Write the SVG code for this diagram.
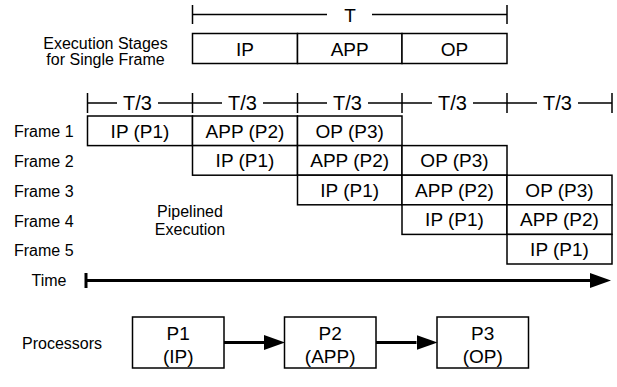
<svg xmlns="http://www.w3.org/2000/svg" width="617" height="387" viewBox="0 0 617 387">
<style>
.lbl{font-family:"Liberation Sans",Arial,Helvetica,sans-serif;font-size:16px;fill:#000}
.mid{text-anchor:middle}
.bt{font-family:"Liberation Sans",Arial,Helvetica,sans-serif;font-size:19px;fill:#000;text-anchor:middle}
.tl{font-family:"Liberation Sans",Arial,Helvetica,sans-serif;font-size:20px;fill:#000;text-anchor:middle}
.box{fill:#fff;stroke:#000;stroke-width:1.5}
.br{stroke:#000;stroke-width:1.5;fill:none}
.thick{stroke:#000;stroke-width:3;fill:none}
</style>
<defs>
<marker id="ah" markerUnits="userSpaceOnUse" viewBox="0 0 21 15" refX="0" refY="7.5" markerWidth="21" markerHeight="15" orient="auto">
<path d="M0,0 L21,7.5 L0,15 Z" fill="#000"/>
</marker>
</defs>
<rect width="617" height="387" fill="#fff"/>

<g id="single-frame">
  <path class="br" d="M192.5,5 V24 M507,5 V24 M192.5,14.5 H327 M372,14.5 H507"/>
  <text class="tl" x="350" y="21.5" style="font-size:19px">T</text>
  <text class="lbl mid" x="105.5" y="48.5">Execution Stages</text>
  <text class="lbl mid" x="105.5" y="64.5">for Single Frame</text>
  <rect class="box" x="192.5" y="33.5" width="105" height="30"/>
  <rect class="box" x="297.5" y="33.5" width="104.5" height="30"/>
  <rect class="box" x="402" y="33.5" width="105" height="30"/>
  <text class="bt" x="245" y="55.5">IP</text>
  <text class="bt" x="349.7" y="55.5">APP</text>
  <text class="bt" x="454.5" y="55.5">OP</text>
</g>

<g id="t3-scale">
  <path class="br" d="M87.5,93 V113 M192.5,93 V113 M297.5,93 V113 M402,93 V113 M507,93 V113 M612,93 V113"/>
  <path class="br" d="M87.5,103 H117 M158,103 H192.5 M192.5,103 H222 M263,103 H297.5 M297.5,103 H327 M368,103 H402 M402,103 H432 M473,103 H507 M507,103 H537 M578,103 H612"/>
  <text class="tl" x="137.5" y="110">T/3</text>
  <text class="tl" x="242.5" y="110">T/3</text>
  <text class="tl" x="347.5" y="110">T/3</text>
  <text class="tl" x="452.5" y="110">T/3</text>
  <text class="tl" x="557.5" y="110">T/3</text>
</g>

<g id="frame-labels">
  <text class="lbl" x="14" y="137">Frame 1</text>
  <text class="lbl" x="14" y="167">Frame 2</text>
  <text class="lbl" x="14" y="197">Frame 3</text>
  <text class="lbl" x="14" y="226.5">Frame 4</text>
  <text class="lbl" x="14" y="256">Frame 5</text>
  <text class="lbl mid" x="190" y="217">Pipelined</text>
  <text class="lbl mid" x="190" y="235">Execution</text>
  <text class="lbl" x="31.5" y="286">Time</text>
</g>

<g id="frame1">
  <rect class="box" x="87.5" y="116" width="105" height="29.6"/>
  <rect class="box" x="192.5" y="116" width="105" height="29.6"/>
  <rect class="box" x="297.5" y="116" width="104.5" height="29.6"/>
  <text class="bt" x="140" y="137.5">IP (P1)</text>
  <text class="bt" x="245" y="137.5">APP (P2)</text>
  <text class="bt" x="349.7" y="137.5">OP (P3)</text>
</g>
<g id="frame2">
  <rect class="box" x="192.5" y="145.6" width="105" height="29.6"/>
  <rect class="box" x="297.5" y="145.6" width="104.5" height="29.6"/>
  <rect class="box" x="402" y="145.6" width="105" height="29.6"/>
  <text class="bt" x="245" y="167">IP (P1)</text>
  <text class="bt" x="349.7" y="167">APP (P2)</text>
  <text class="bt" x="454.5" y="167">OP (P3)</text>
</g>
<g id="frame3">
  <rect class="box" x="297.5" y="175.2" width="104.5" height="29.6"/>
  <rect class="box" x="402" y="175.2" width="105" height="29.6"/>
  <rect class="box" x="507" y="175.2" width="105" height="29.6"/>
  <text class="bt" x="349.7" y="196.6">IP (P1)</text>
  <text class="bt" x="454.5" y="196.6">APP (P2)</text>
  <text class="bt" x="559.5" y="196.6">OP (P3)</text>
</g>
<g id="frame4">
  <rect class="box" x="402" y="204.8" width="105" height="29.6"/>
  <rect class="box" x="507" y="204.8" width="105" height="29.6"/>
  <text class="bt" x="454.5" y="226.2">IP (P1)</text>
  <text class="bt" x="559.5" y="226.2">APP (P2)</text>
</g>
<g id="frame5">
  <rect class="box" x="507" y="234.4" width="105" height="29.6"/>
  <text class="bt" x="559.5" y="255.8">IP (P1)</text>
</g>

<g id="time-axis">
  <path class="thick" d="M86,273 V288"/>
  <line class="thick" x1="86" y1="280.5" x2="590" y2="280.5" marker-end="url(#ah)"/>
</g>

<text class="lbl" x="22" y="349">Processors</text>

<g id="P1">
  <rect class="box" x="132.5" y="317" width="91.5" height="51"/>
  <text class="bt" x="178.2" y="340">P1</text>
  <text class="bt" x="178.2" y="363">(IP)</text>
</g>
<g id="P2">
  <rect class="box" x="284.5" y="317" width="91.5" height="51"/>
  <text class="bt" x="330.2" y="340">P2</text>
  <text class="bt" x="330.2" y="363">(APP)</text>
</g>
<g id="P3">
  <rect class="box" x="437" y="317" width="91.5" height="51"/>
  <text class="bt" x="482.7" y="340">P3</text>
  <text class="bt" x="482.7" y="363">(OP)</text>
</g>

<g id="connectors">
  <line class="thick" x1="224" y1="342.5" x2="264" y2="342.5" marker-end="url(#ah)"/>
  <line class="thick" x1="376" y1="342.5" x2="416.5" y2="342.5" marker-end="url(#ah)"/>
</g>
</svg>
